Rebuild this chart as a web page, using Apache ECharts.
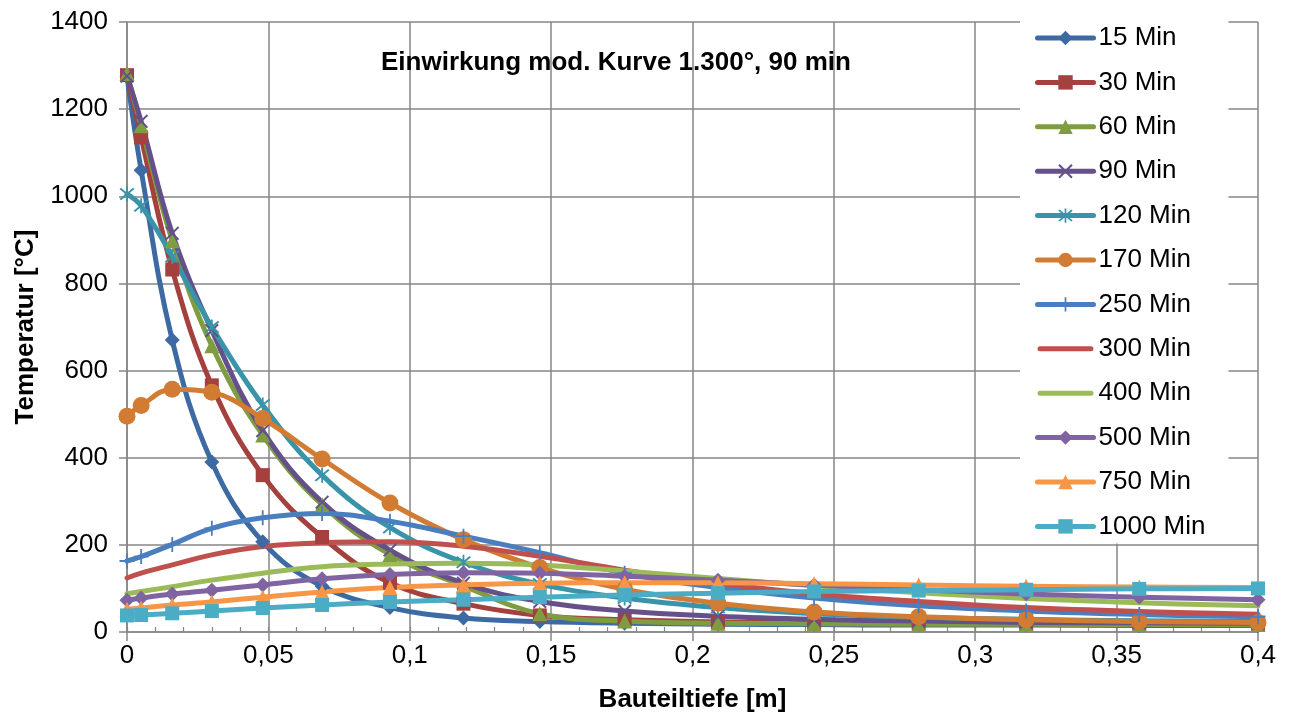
<!DOCTYPE html>
<html>
<head>
<meta charset="utf-8">
<title>Temperaturverlauf</title>
<script src="https://cdn.jsdelivr.net/npm/echarts@6/dist/echarts.min.js"></script>
<style>
html, body { margin: 0; padding: 0; background: #fff; }
#chart { width: 1292px; height: 713px; }
</style>
</head>
<body>
<div id="chart"></div>
<script>
// Bauteiltiefe [m]
var depth = [0, 0.005, 0.016, 0.03, 0.048, 0.069, 0.093, 0.119, 0.146, 0.176, 0.209, 0.243, 0.28, 0.318, 0.358, 0.4]

// Temperatur [°C] je Zeitpunkt
var t15 = [1275, 1060, 670, 390, 207, 105, 56, 32, 24, 20, 18, 17, 16, 16, 15, 15]
var t30 = [1278, 1135, 832, 566, 360, 218, 113, 65, 38, 28, 23, 21, 20, 19, 19, 18]
var t60 = [1282, 1162, 898, 657, 452, 292, 178, 106, 42, 25, 20, 19, 18, 18, 17, 17]
var t90 = [1276, 1172, 915, 692, 462, 298, 188, 112, 70, 48, 36, 29, 25, 22, 21, 20]
var t120 = [1005, 978, 862, 700, 521, 360, 240, 160, 110, 78, 56, 42, 34, 29, 26, 24]
var t170 = [495, 520, 557, 550, 490, 397, 296, 212, 148, 98, 66, 46, 35, 28, 24, 22]
var t250 = [163, 173, 201, 238, 262, 272, 254, 220, 182, 135, 102, 78, 60, 48, 40, 35]
var t300 = [124, 135, 154, 177, 196, 205, 207, 197, 174, 142, 112, 88, 70, 56, 47, 41]
var t400 = [88, 93, 104, 119, 135, 150, 156, 158, 154, 140, 123, 106, 90, 77, 67, 60]
var t500 = [73, 78, 87, 96, 108, 122, 132, 136, 135, 128, 119, 108, 97, 87, 80, 74]
var t750 = [52, 55, 62, 69, 80, 92, 102, 108, 112, 113, 113, 111, 108, 105, 103, 102]
var t1000 = [38, 39, 43, 48, 55, 62, 69, 74, 80, 85, 89, 93, 95, 97, 99, 100]

var seriesNames = ['15 Min', '30 Min', '60 Min', '90 Min', '120 Min', '170 Min', '250 Min', '300 Min', '400 Min', '500 Min', '750 Min', '1000 Min']
var seriesValues = [t15, t30, t60, t90, t120, t170, t250, t300, t400, t500, t750, t1000]

var xMark = 'path://M1,0L5,4L9,0L10,1L6,5L10,9L9,10L5,6L1,10L0,9L4,5L0,1Z'
var starMark = 'path://M1,0L5,4L9,0L10,1L6,5L10,9L9,10L5,6L1,10L0,9L4,5L0,1Z M4.4,-1L5.6,-1L5.6,11L4.4,11Z'
var plusMark = 'path://M4.4,0L5.6,0L5.6,10L4.4,10Z M0,4.4L10,4.4L10,5.6L0,5.6Z'
// legend icon for lines without markers: rounded bar, tiny dots keep the box 56x18
var barIcon = 'path://M0,0L0.01,0L0.01,0.01Z M2.5,6.5L53.5,6.5A2.5,2.5 0 0 1 53.5,11.5L2.5,11.5A2.5,2.5 0 0 1 2.5,6.5Z M56,18L55.99,18L55.99,17.99Z'

var styles = [
  { color: '#3D6AA3', symbol: 'diamond', size: 15 },
  { color: '#A4403D', symbol: 'rect', size: 14 },
  { color: '#7F9D40', symbol: 'triangle', size: 15 },
  { color: '#65508A', symbol: xMark, size: 14 },
  { color: '#3A94A9', symbol: starMark, size: 15 },
  { color: '#D17B33', symbol: 'circle', size: 17 },
  { color: '#4A7EBF', symbol: plusMark, size: 15 },
  { color: '#C0504D', symbol: 'none', size: 0 },
  { color: '#9BBB59', symbol: 'none', size: 0 },
  { color: '#8064A2', symbol: 'diamond', size: 15 },
  { color: '#F79646', symbol: 'triangle', size: 15 },
  { color: '#4BACC6', symbol: 'rect', size: 14 }
]

var font = 'Liberation Sans, Arial, sans-serif'

function buildSeries() {
  var list = []
  for (var i = 0; i < seriesNames.length; i++) {
    var vals = seriesValues[i]
    var data = []
    for (var k = 0; k < depth.length; k++) {
      data.push([depth[k], vals[k]])
    }
    list.push({
      name: seriesNames[i],
      type: 'line',
      smooth: 0.4,
      data: data,
      symbol: styles[i].symbol,
      symbolSize: styles[i].size,
      showAllSymbol: true,
      lineStyle: { width: 5, color: styles[i].color, cap: 'round', join: 'round' },
      itemStyle: { color: styles[i].color },
      emphasis: { disabled: true }
    })
  }
  return list
}

function buildLegendData() {
  return seriesNames.map(function (name, i) {
    if (styles[i].symbol === 'none') {
      return { name: name, icon: barIcon }
    }
    return { name: name }
  })
}

var chart = echarts.init(document.getElementById('chart'))
chart.setOption({
  animation: false,
  backgroundColor: '#fff',
  title: {
    text: 'Einwirkung mod. Kurve 1.300°, 90 min',
    left: 376,
    top: 45,
    textStyle: { fontFamily: font, fontSize: 26, fontWeight: 'bold', color: '#000' }
  },
  legend: {
    orient: 'vertical',
    left: 1020,
    top: 10,
    padding: [13, 23, 2, 15],
    backgroundColor: '#fff',
    itemWidth: 56,
    itemHeight: 18,
    itemGap: 14.4,
    lineStyle: { width: 5, cap: 'round' },
    data: buildLegendData(),
    textStyle: { fontFamily: font, fontSize: 26, color: '#000', lineHeight: 30 }
  },
  grid: {
    left: 127,
    right: 34,
    top: 22,
    bottom: 81,
    outerBoundsMode: 'none',
    containLabel: false
  },
  xAxis: [{
    type: 'value',
    min: 0,
    max: 0.4,
    interval: 0.05,
    name: 'Bauteiltiefe [m]',
    nameLocation: 'middle',
    nameGap: 55,
    nameTextStyle: { fontFamily: font, fontSize: 26, fontWeight: 'bold', color: '#000' },
    axisLine: { show: true, lineStyle: { color: '#868686', width: 1.5 } },
    axisTick: { show: true, length: 9, lineStyle: { color: '#868686', width: 1.5 } },
    splitLine: { show: true, lineStyle: { color: '#868686', width: 1.5 } },
    axisLabel: {
      margin: 11,
      fontFamily: font,
      fontSize: 26,
      color: '#000',
      formatter: function (v) { return String(Number(v.toFixed(2))).replace('.', ',') }
    }
  }, {
    type: 'value',
    position: 'bottom',
    min: 0,
    max: 0.4,
    interval: 0.01,
    axisLine: { show: false },
    axisTick: { show: true, inside: true, length: 5, lineStyle: { color: '#868686', width: 1.2 } },
    axisLabel: { show: false },
    splitLine: { show: false }
  }],
  yAxis: {
    type: 'value',
    min: 0,
    max: 1400,
    interval: 200,
    name: 'Temperatur [°C]',
    nameLocation: 'middle',
    nameGap: 88,
    nameTextStyle: { fontFamily: font, fontSize: 26, fontWeight: 'bold', color: '#000' },
    axisLine: { show: true, lineStyle: { color: '#868686', width: 1.5 } },
    axisTick: { show: true, length: 8, lineStyle: { color: '#868686', width: 1.5 } },
    splitLine: { show: true, lineStyle: { color: '#868686', width: 1.5 } },
    axisLabel: {
      margin: 19,
      fontFamily: font,
      fontSize: 26,
      color: '#000',
      formatter: function (v) { return String(v) }
    }
  },
  series: buildSeries()
})
</script>
</body>
</html>
